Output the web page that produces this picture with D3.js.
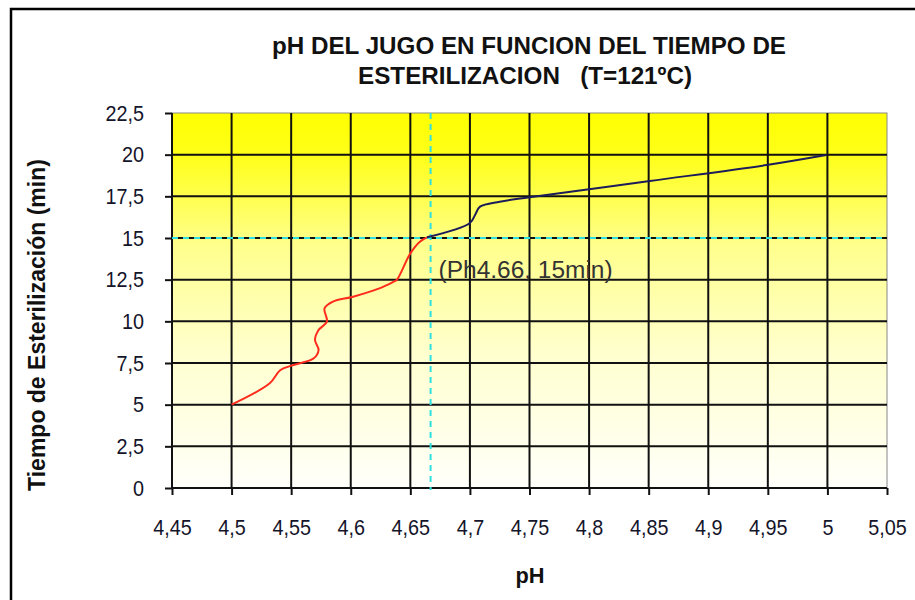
<!DOCTYPE html>
<html>
<head>
<meta charset="utf-8">
<script src="https://cdn.jsdelivr.net/npm/d3@7"></script>
<style>
  body { margin: 0; background: #fff; }
  text { font-family: "Liberation Sans", Arial, sans-serif; fill: #111; }
</style>
</head>
<body>
<div id="chart"></div>
<script>
// data
var xTicks = [4.45, 4.5, 4.55, 4.6, 4.65, 4.7, 4.75, 4.8, 4.85, 4.9, 4.95, 5, 5.05];
var yTicks = [0, 2.5, 5, 7.5, 10, 12.5, 15, 17.5, 20, 22.5];

// first stretch (red), pH vs minutes
var redPh  = [4.5, 4.532, 4.541, 4.552, 4.569, 4.573, 4.570, 4.573, 4.580, 4.578, 4.585, 4.602, 4.624, 4.636, 4.6386, 4.650, 4.658, 4.664];
var redMin = [5, 6.28, 7.08, 7.38, 7.78, 8.28, 8.88, 9.48, 9.98, 10.78, 11.18, 11.48, 11.98, 12.38, 12.48, 14.08, 14.78, 15.04];

// second stretch (navy)
var bluePh  = [4.664, 4.7, 4.7043, 4.7085, 4.725, 4.750, 4.851, 4.949, 4.999];
var blueMin = [15.04, 15.9, 16.38, 16.88, 17.18, 17.44, 18.42, 19.38, 19.98];

var markPh = 4.667, markMin = 15;
var noteText = "(Ph4.66, 15min)";

var W = 915, H = 600;
var svg = d3.select("#chart").append("svg").attr("width", W).attr("height", H);

var x = d3.scaleLinear().domain([4.45, 5.05]).range([172, 887]);
var y = d3.scaleLinear().domain([0, 22.5]).range([488, 113]);

// outer frame
svg.append("rect").attr("x", 11).attr("y", 9).attr("width", W).attr("height", H)
  .style("fill", "#fff").style("stroke", "#000").style("stroke-width", 2.5);

// plot background gradient
var grad = svg.append("defs").append("linearGradient").attr("id", "bg")
  .attr("x1", 0).attr("y1", 0).attr("x2", 0).attr("y2", 1);
[[0, "#ffff00"], [0.12, "#ffff1c"], [0.35, "#ffff8c"], [0.65, "#ffffd0"], [1, "#fffffa"]].forEach(function (s) {
  grad.append("stop").attr("offset", s[0]).attr("stop-color", s[1]);
});
svg.append("rect").attr("x", x(4.45)).attr("y", y(22.5))
  .attr("width", x(5.05) - x(4.45)).attr("height", y(0) - y(22.5))
  .style("fill", "url(#bg)").style("stroke", "#888").style("stroke-width", 1);

// grid
var grid = svg.append("g");
grid.selectAll("line.v").data(xTicks.slice(1, -1)).enter().append("line")
  .attr("x1", function (d) { return x(d); }).attr("x2", function (d) { return x(d); })
  .attr("y1", y(22.5)).attr("y2", y(0))
  .style("stroke", "#111").style("stroke-width", 2);
grid.selectAll("line.h").data(yTicks.slice(1, -1)).enter().append("line")
  .attr("y1", function (d) { return y(d); }).attr("y2", function (d) { return y(d); })
  .attr("x1", x(4.45)).attr("x2", x(5.05))
  .style("stroke", "#111").style("stroke-width", 2);

// axes
var fmt = function (d) { return String(d).replace(".", ","); };
var sx = 0.9; // narrow look of the original font
var xAxis = svg.append("g").attr("transform", "translate(0," + y(0) + ")")
  .call(d3.axisBottom(x).tickValues(xTicks).tickFormat(fmt).tickSize(7).tickPadding(24));
var yAxis = svg.append("g").attr("transform", "translate(" + x(4.45) + ",0)")
  .call(d3.axisLeft(y).tickValues(yTicks).tickFormat(fmt).tickSize(7).tickPadding(21));
[xAxis, yAxis].forEach(function (a) {
  a.select(".domain").style("stroke", "#111").style("stroke-width", 2);
  a.selectAll(".tick line").style("stroke", "#111").style("stroke-width", 2);
  a.selectAll(".tick text").style("font-size", "22px").style("font-family", null)
    .style("fill", "#14142a").attr("transform", "scale(" + sx + ",1)");
});
yAxis.selectAll(".tick text").attr("x", -28 / sx);
xAxis.select(".domain").attr("d", "M" + x(4.45) + ",0H" + x(5.05));
yAxis.select(".domain").attr("d", "M0," + y(0) + "V" + y(22.5));

// reference lines
svg.append("line").attr("x1", x(4.45)).attr("x2", x(5.05))
  .attr("y1", y(markMin)).attr("y2", y(markMin))
  .style("stroke", "#30e0e0").style("stroke-width", 2).style("stroke-dasharray", "6,5");
svg.append("line").attr("x1", x(markPh)).attr("x2", x(markPh))
  .attr("y1", y(22.5)).attr("y2", y(0) + 2)
  .style("stroke", "#30e0e0").style("stroke-width", 2).style("stroke-dasharray", "6,5");

// curves
var line = d3.line()
  .x(function (d) { return x(d[0]); })
  .y(function (d) { return y(d[1]); })
  .curve(d3.curveCatmullRom.alpha(0.5));
svg.append("path").datum(d3.zip(redPh, redMin)).attr("d", line)
  .style("fill", "none").style("stroke", "#ff2b1c").style("stroke-width", 2);
svg.append("path").datum(d3.zip(bluePh, blueMin)).attr("d", line)
  .style("fill", "none").style("stroke", "#1c1c5a").style("stroke-width", 2);

// annotation
svg.append("text").attr("x", x(markPh) + 8).attr("y", 278)
  .attr("textLength", 174).attr("lengthAdjust", "spacingAndGlyphs")
  .style("font-size", "23px").style("fill", "#333").text(noteText);

// titles
svg.append("text").attr("x", 529).attr("y", 54).attr("text-anchor", "middle")
  .attr("textLength", 514).attr("lengthAdjust", "spacingAndGlyphs")
  .style("font-size", "24px").style("font-weight", "bold")
  .text("pH DEL JUGO EN FUNCION DEL TIEMPO DE");
svg.append("text").attr("x", 525).attr("y", 84).attr("text-anchor", "middle")
  .attr("textLength", 334).attr("lengthAdjust", "spacingAndGlyphs")
  .style("font-size", "24px").style("font-weight", "bold").attr("xml:space", "preserve")
  .text("ESTERILIZACION   (T=121ºC)");
svg.append("text").attr("x", 530).attr("y", 583).attr("text-anchor", "middle")
  .attr("textLength", 29).attr("lengthAdjust", "spacingAndGlyphs")
  .style("font-size", "22px").style("font-weight", "bold").text("pH");
svg.append("text").attr("transform", "translate(45,325) rotate(-90)").attr("text-anchor", "middle")
  .style("font-size", "23px").style("font-weight", "bold")
  .text("Tiempo de Esterilización (min)");
</script>
</body>
</html>
